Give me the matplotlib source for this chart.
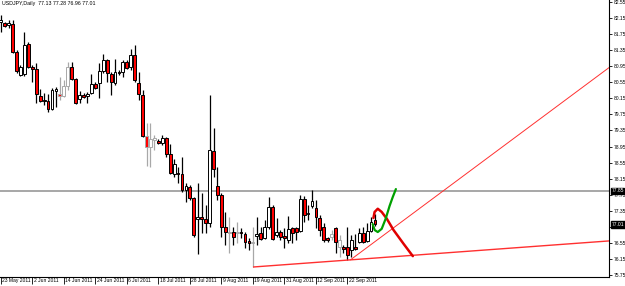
import numpy as np
import matplotlib
matplotlib.use("Agg")
import matplotlib.pyplot as plt
from matplotlib.transforms import ScaledTranslation

plt.rcParams['font.family'] = ['Liberation Sans', 'DejaVu Sans']

# daily USDJPY bars, 23 May 2011 .. 30 Sep 2011 (bar index = trading day)
opens = [82.05, 82.03, 81.98, 82.00, 81.31, 80.73, 80.76, 81.50, 80.93, 80.88,
         80.21, 80.11, 80.09, 79.89, 80.33, 80.26, 80.21, 80.46, 80.93, 80.63,
         80.13, 80.23, 80.21, 80.28, 80.51, 80.53, 80.83, 81.11, 80.76, 80.53,
         80.81, 80.81, 81.06, 80.93, 81.23, 80.53, 80.23, 79.21, 78.94, 79.11,
         79.09, 79.04, 79.16, 78.77, 78.27, 78.29, 78.27, 77.87, 77.94, 77.67,
         77.15, 77.20, 77.15, 77.05, 78.84, 77.97, 77.74, 76.95, 76.82, 76.82,
         76.80, 76.82, 76.77, 76.60, 76.55, 76.72, 76.80, 76.67, 76.95, 77.45,
         76.75, 76.82, 76.72, 76.62, 76.92, 76.92, 76.85, 77.65, 77.27, 77.47,
         77.42, 77.17, 76.95, 76.67, 76.70, 76.92, 76.45, 76.45, 76.45, 76.37,
         76.45, 76.57, 76.80, 76.60, 76.85, 77.13]
highs = [82.23, 82.05, 82.10, 82.10, 81.35, 80.98, 81.80, 81.55, 80.98, 81.03,
         80.38, 80.28, 80.26, 80.41, 80.43, 80.68, 80.61, 81.06, 81.06, 80.66,
         80.33, 80.28, 80.31, 80.76, 80.56, 81.03, 81.26, 81.13, 80.81, 81.13,
         80.86, 81.11, 81.11, 81.38, 81.48, 80.81, 80.36, 79.54, 79.54, 79.24,
         79.14, 79.24, 79.19, 79.01, 78.64, 78.44, 78.69, 78.04, 77.99, 77.69,
         78.04, 77.79, 77.50, 80.24, 79.41, 78.44, 77.79, 77.32, 77.20, 76.95,
         77.07, 76.92, 76.82, 76.67, 76.95, 77.20, 76.95, 77.12, 77.69, 77.50,
         77.17, 76.87, 76.92, 77.22, 76.95, 76.95, 77.74, 77.72, 77.50, 77.87,
         77.62, 77.25, 77.05, 76.70, 76.87, 76.95, 76.75, 76.50, 76.95, 76.75,
         76.77, 76.92, 76.95, 77.05, 77.20, 77.28]
lows = [81.80, 81.93, 81.90, 81.28, 80.78, 80.71, 80.71, 80.91, 80.56, 80.04,
        80.06, 79.99, 79.81, 79.86, 79.94, 80.11, 80.18, 80.36, 80.61, 80.01,
        80.04, 80.16, 80.04, 80.26, 80.38, 80.16, 80.78, 80.56, 80.23, 80.48,
        80.73, 80.68, 80.88, 80.86, 80.56, 80.11, 79.19, 78.47, 78.44, 78.86,
        79.01, 78.99, 78.69, 78.27, 78.19, 78.04, 77.82, 77.57, 77.62, 76.70,
        76.28, 76.80, 76.80, 76.95, 78.19, 77.62, 76.70, 76.50, 76.30, 76.50,
        76.55, 76.67, 76.42, 76.37, 75.95, 76.50, 76.62, 76.65, 76.90, 76.62,
        76.70, 76.62, 76.42, 76.55, 76.55, 76.62, 76.82, 77.07, 77.12, 77.42,
        76.92, 76.72, 76.57, 76.57, 76.62, 76.30, 76.20, 76.30, 76.13, 76.20,
        76.37, 76.55, 76.55, 76.57, 76.82, 76.96]
closes = [82.10, 81.95, 82.03, 81.31, 80.83, 80.93, 81.48, 80.93, 80.88, 80.26,
          80.09, 80.09, 79.89, 80.36, 80.38, 80.21, 80.46, 80.93, 80.63, 80.04,
          80.23, 80.18, 80.26, 80.51, 80.41, 80.83, 81.11, 80.78, 80.56, 80.81,
          80.78, 81.06, 80.91, 81.23, 80.61, 80.26, 79.21, 78.94, 79.14, 79.16,
          79.04, 79.16, 78.77, 78.29, 78.52, 78.27, 77.87, 77.97, 77.67, 76.75,
          77.20, 77.15, 77.05, 78.86, 78.39, 77.74, 76.95, 76.82, 76.80, 76.70,
          76.82, 76.80, 76.57, 76.55, 76.55, 76.77, 76.65, 76.95, 77.45, 76.65,
          76.82, 76.70, 76.67, 76.90, 76.80, 76.82, 77.65, 77.25, 77.30, 77.60,
          77.20, 76.87, 76.62, 76.62, 76.77, 76.57, 76.62, 76.40, 76.25, 76.62,
          76.40, 76.80, 76.57, 76.85, 77.07, 77.01]
gray_bars = [15, 16, 17, 37, 38, 39, 58, 60, 64, 84, 86]

date_ticks = [0, 8, 16, 24, 32, 40, 48, 56, 64, 72, 80, 88]
date_labels = ["23 May 2011", "2 Jun 2011", "14 Jun 2011", "24 Jun 2011",
               "6 Jul 2011", "18 Jul 2011", "28 Jul 2011", "9 Aug 2011",
               "19 Aug 2011", "31 Aug 2011", "12 Sep 2011", "22 Sep 2011"]
price_ticks = [82.55, 82.15, 81.75, 81.35, 80.95, 80.55, 80.15, 79.75, 79.35,
               78.95, 78.55, 78.15, 77.75, 77.35, 76.95, 76.55, 76.15, 75.75]

level = 77.85
last_price = 77.01
# hand drawn objects (bar index, price)
upper_line = [(88.8, 76.13), (154.6, 80.93)]
lower_line = [(64.2, 75.95), (154.6, 76.60)]
red_path_x = [94.6, 94.9, 95.7, 96.7, 98.0, 99.7, 102.3, 104.6]
red_path_y = [77.17, 77.32, 77.40, 77.32, 77.15, 76.87, 76.52, 76.22]
green_path_x = [94.4, 94.9, 95.7, 96.7, 97.7, 98.7, 99.5, 100.3]
green_path_y = [77.02, 76.87, 76.82, 76.90, 77.15, 77.47, 77.69, 77.89]

fig = plt.figure(figsize=(6.25, 2.86), dpi=100)
ax = fig.add_axes([0, 9 / 286, 609 / 625, 277 / 286])
ax.set_xlim(-0.2, 154.4)
ax.set_ylim(75.70, 82.60)

n = len(opens)
for i in range(n):
    o, h, l, c = opens[i], highs[i], lows[i], closes[i]
    edge = "#a8a8a8" if i in gray_bars else "black"
    ax.vlines(i, l, h, color=edge, lw=0.9, zorder=2)
    bottom = min(o, c)
    height = max(abs(c - o), 0.03)
    face = "red" if c < o else "white"
    ax.bar(i, height, bottom=bottom, width=0.72, color=face, edgecolor=edge,
           linewidth=0.7, zorder=3)

ax.axhline(level, color="#909090", lw=1.1, zorder=1)
ax.plot([p[0] for p in upper_line], [p[1] for p in upper_line], color="#ff3030", lw=0.7, zorder=4)
ax.plot([p[0] for p in lower_line], [p[1] for p in lower_line], color="#ff3030", lw=1.0, zorder=4)
ax.plot(red_path_x, red_path_y, color="#e00000", lw=1.8, zorder=5, solid_capstyle="round")
ax.plot(green_path_x, green_path_y, color="#00a000", lw=1.6, zorder=5, solid_capstyle="round")

for s in ["top", "left"]:
    ax.spines[s].set_visible(False)
ax.spines["right"].set_linewidth(0.8)
ax.spines["bottom"].set_linewidth(0.8)

ax.yaxis.tick_right()
ax.set_yticks(price_ticks)
ax.set_yticklabels(["%.2f" % v for v in price_ticks])
ax.tick_params(axis="y", length=2, width=0.6, labelsize=3.6, pad=1.2)
ax.set_xticks(date_ticks)
ax.set_xticklabels(date_labels, ha="left")
ax.tick_params(axis="x", length=5, width=0.6, labelsize=3.6, pad=-4.5)
for lab in ax.get_xticklabels():
    lab.set_transform(lab.get_transform() + ScaledTranslation(1.2 / 100, 0, fig.dpi_scale_trans))

for v in [level, last_price]:
    ax.text(1.004, v, "%.2f" % v, transform=ax.get_yaxis_transform(), color="white",
            fontsize=3.6, va="center", ha="left",
            bbox=dict(boxstyle="square,pad=0.12", fc="black", ec="black"))

ax.text(0.003, 0.995, "USDJPY,Daily  77.13 77.28 76.96 77.01", transform=ax.transAxes,
        fontsize=3.8, va="top", ha="left")

fig.savefig("out.png", dpi=100)
